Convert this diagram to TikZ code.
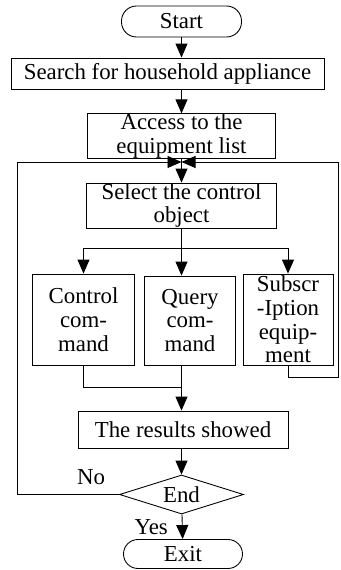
\documentclass[tikz,border=0pt]{standalone}
\usepackage{fontspec}
\setmainfont{Liberation Serif}
\usetikzlibrary{shapes.geometric, arrows.meta}

\begin{document}
\begin{tikzpicture}[every node/.style={font=\fontsize{13}{13.5}\selectfont},
	proc/.style={rectangle, draw, align=center, inner sep=0pt},
	term/.style={rectangle, draw, rounded corners=0.3cm, inner sep=0pt},
	dec/.style={diamond, draw, inner sep=0pt, aspect=3.2},
	line width=0.5pt, >={Triangle[length=0.28cm, width=0.24cm]}]
				      \useasboundingbox (0,0) rectangle (6.8,-11.4);

				      \node[term, minimum width=2.4cm, minimum height=0.62cm] (start) at (3.63,-0.43) {Start};
				      \node[proc, minimum width=6.26cm, minimum height=0.62cm] (search) at (3.35,-1.47) {Search for household appliance};
				      \node[proc, minimum width=3.76cm, minimum height=0.84cm] (access) at (3.63,-2.72) {Access to the\\equipment list};
				      \node[proc, minimum width=3.8cm, minimum height=0.9cm] (select) at (3.63,-4.11) {Select the control\\object};
				      \node[proc, minimum width=2.04cm, minimum height=1.82cm] (ctrl) at (1.67,-6.39) {Control\\com-\\mand};
				      \node[proc, minimum width=1.82cm, minimum height=1.78cm] (query) at (3.8,-6.41) {Query\\com-\\mand};
				      \node[proc, minimum width=1.8cm, minimum height=1.82cm] (subs) at (5.76,-6.39) {Subscr\\-Iption\\equip-\\ment};
				      \node[proc, minimum width=4.2cm, minimum height=0.74cm] (result) at (3.66,-8.59) {The results showed};
				      \node[dec, minimum width=2.48cm, minimum height=0.78cm] (stop) at (3.63,-9.89) {End};
				      \node[term, minimum width=2.38cm, minimum height=0.58cm, rounded corners=0.29cm] (exit) at (3.66,-11.08) {Exit};
				      \node (no) at (1.82,-9.54) {No};

				      \coordinate (jn) at (3.63,-3.24);
				      \coordinate (br) at (3.63,-4.96);
				      \coordinate (mg) at (3.63,-7.74);
				      \coordinate (lft) at (0.34,-3.24);
				      \coordinate (rgt) at (6.76,-3.24);
				      \coordinate (sb) at (6.76,-7.54);

				      \draw[->] (start) -- (start |- search.north);
				      \draw[->] (search.south -| access) -- (access);
				      \draw[->] (access) -- (select);
				      \draw (select) -- (br);
				      \draw[->] (br) -| (ctrl);
				      \draw[->] (br) -| (subs);
				      \draw[->] (br) -- (br |- query.north);
				      \draw (ctrl) |- (mg);
				      \draw[->] (query.south -| mg) -- (mg |- result.north);
				      \draw[->] (result.south -| stop) -- (stop);
				      \draw[->] (stop) -- node[left, inner sep=8pt] {Yes} (exit);
				      \draw[->] (stop.west) -| (lft) -- (jn);
				      \draw[->] (subs.south) |- (sb) -- (rgt) -- (jn);
			      \end{tikzpicture}
\end{document}
